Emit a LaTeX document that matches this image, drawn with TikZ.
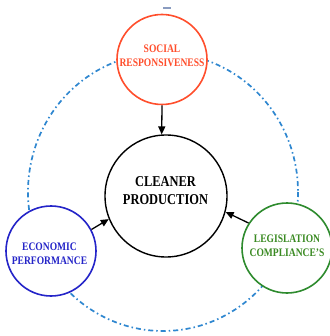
\documentclass[tikz,border=0pt]{standalone}
\usepackage{fontspec}
\setmainfont{Liberation Serif}
\newfontfamily\condfont[FakeStretch=0.83]{Liberation Serif}
\usetikzlibrary{arrows.meta}
\definecolor{cred}{HTML}{FF4E2C}
\definecolor{cblue}{HTML}{2424C8}
\definecolor{cgreen}{HTML}{2E8B2E}
\definecolor{tgreen}{HTML}{3A8A22}
\definecolor{cdash}{HTML}{2F87D0}
\definecolor{ctick}{HTML}{8A9CC0}
\tikzset{
  circ/.style={circle, fill=white, line width=1.6pt, inner sep=0pt},
  lbl/.style={align=center, inner sep=0pt, font=\condfont\bfseries\fontsize{11.5}{14}\selectfont},
  biglbl/.style={align=center, inner sep=0pt, font=\condfont\bfseries\fontsize{15}{17.5}\selectfont},
  dashring/.style={draw=cdash, line width=1.7pt, dash pattern=on 5pt off 3pt on 1.5pt off 3pt},
  arr/.style={line width=1.3pt, -{Triangle[length=8pt,width=7pt]}},
  tickline/.style={draw=ctick, line width=1.5pt}
}
\begin{document}
\begin{tikzpicture}[x=1pt,y=-1pt]
\useasboundingbox (0,0) rectangle (329,336);
\draw[dashring] (163,192) ellipse [x radius=135, y radius=139];
\coordinate (t1) at (163,8);
\coordinate (t2) at (171,8);
\draw[tickline] (t1) -- (t2);
\node[circ, draw=cred, minimum size=90pt] (soc) at (162,59.5) {};
\node[circ, draw=black, line width=1.4pt, minimum size=122pt] (cp) at (166,196) {};
\node[circ, draw=cblue, minimum size=90pt] (eco) at (51,251) {};
\node[circ, draw=cgreen, minimum size=90pt] (leg) at (287,248) {};
\node[lbl, text=cred] (soct) at (162,55.5) {SOCIAL\\RESPONSIVENESS};
\node[biglbl, text=black] (cpt) at (165.5,190.5) {CLEANER\\PRODUCTION};
\node[lbl, text=cblue] (ecot) at (49.5,253.5) {ECONOMIC\\PERFORMANCE};
\node[lbl, text=tgreen] (legt) at (287,245.5) {LEGISLATION\\COMPLIANCE’S};
\draw[arr] (soc.south) -- (cp.94);
\draw[arr] (eco.28) -- (cp.202);
\draw[arr] (leg.147) -- (cp.-15);
\end{tikzpicture}
\end{document}
